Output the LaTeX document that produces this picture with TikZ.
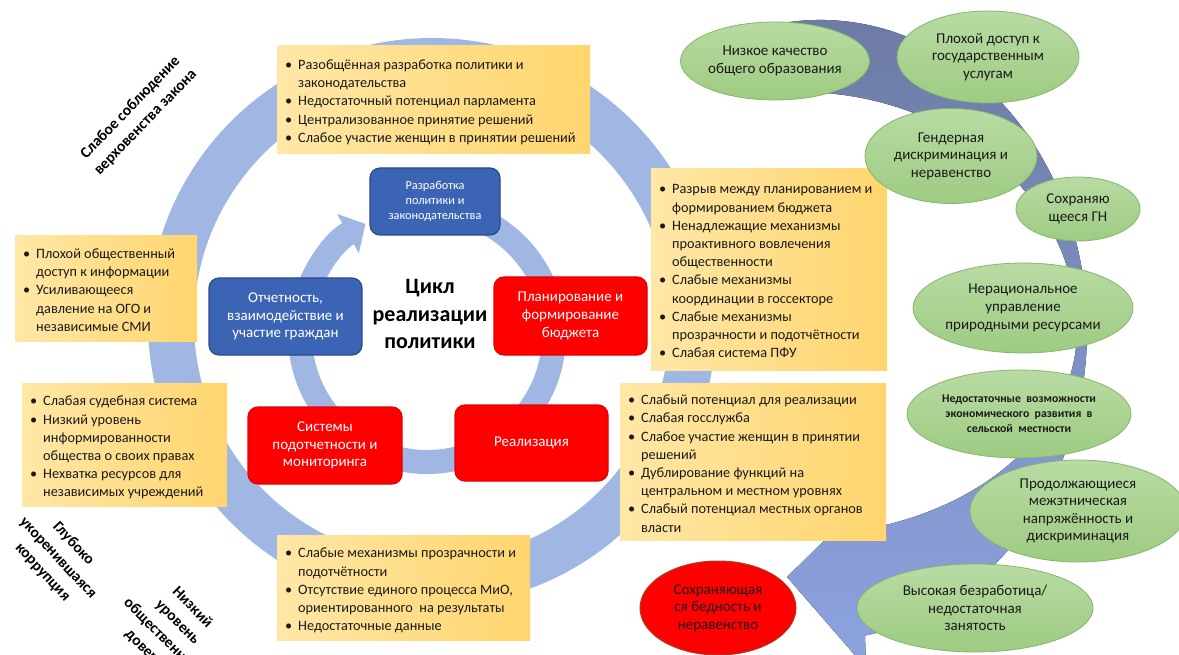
\documentclass[tikz,border=0pt]{standalone}
\usepackage{fontspec}
\setmainfont{Carlito}
\usetikzlibrary{shapes.geometric,arrows.meta}
\definecolor{ringblue}{HTML}{A0B7E3}
\definecolor{yleft}{HTML}{FFE7A6}
\definecolor{yright}{HTML}{FFD56E}
\definecolor{pblue}{HTML}{3B64B4}
\definecolor{pblueb}{HTML}{2C4A86}
\definecolor{pred}{HTML}{FF0000}
\definecolor{predb}{HTML}{E60000}
\definecolor{povb}{HTML}{A5402A}
\definecolor{gtop}{HTML}{B8DBA3}
\definecolor{gbot}{HTML}{9ECB82}
\definecolor{gborder}{HTML}{86B66A}
\definecolor{atop}{HTML}{6C7AA3}
\definecolor{abot}{HTML}{8DA3E0}
\definecolor{txt}{HTML}{1A1A1A}
\newcommand{\ylist}[2]{\raisebox{-3pt}[\height][\depth]{\makebox[#1][l]{\begin{tabular}{@{}p{13pt}@{}l@{}}#2\end{tabular}}}}
\newcommand{\bl}{\textbullet}
\begin{document}
\begin{tikzpicture}[x=1pt,y=-1pt,
  ybox/.style={anchor=north west, left color=yleft, right color=yright, draw=none,
    inner xsep=8pt, inner ysep=2pt, text=txt,
    font=\fontsize{14.3pt}{18.2pt}\selectfont},
  pbox/.style={rounded corners=10pt, line width=1.2pt, text=white, align=center,
    inner sep=2pt, font=\fontsize{15pt}{17.6pt}\selectfont},
  bluebox/.style={pbox, fill=pblue, draw=pblueb},
  redbox/.style={pbox, fill=pred, draw=predb},
  gell/.style={ellipse, top color=gtop, bottom color=gbot, draw=gborder, line width=0.8pt,
    inner sep=0pt, align=center, text=txt, font=\fontsize{15pt}{17.6pt}\selectfont},
  rlabel/.style={align=center, text=black, font=\bfseries\fontsize{15.5pt}{21pt}\selectfont}
]
\useasboundingbox (0,0) rectangle (1179,655);
\fill[white] (0,0) rectangle (1179,655);

% centres of the rings
\coordinate (oc) at (432,322);
\coordinate (ic) at (427,335);

% outer light ring
\draw[ringblue, line width=46pt] (oc) circle[radius=261];

% big right arrow
\fill[top color=atop, bottom color=abot]
  (787.5,22.3) arc[start angle=263, end angle=440.3, x radius=267, y radius=310]
  -- (866,668) -- (787,577) -- (874,492) -- (866.1,529.1)
  arc[start angle=76.2, end angle=0, x radius=277, y radius=205]
  arc[start angle=360, end angle=267.1, x radius=277, y radius=238] -- cycle;

% inner circular arrow
\draw[ringblue, line width=24pt, -{Triangle[width=44pt,length=20pt]}]
  (ic) ++(282:127) arc[start angle=282, end angle=601, radius=127];

% yellow boxes
\node[ybox, minimum width=313pt, minimum height=108pt] (ytop) at (277,45) {\ylist{297pt}{%
\bl & Разобщённая разработка политики и\\ & законодательства\\
\bl & Недостаточный потенциал парламента\\
\bl & Централизованное принятие решений\\
\bl & Слабое участие женщин в принятии решений}};

\node[ybox, minimum width=236pt, minimum height=202pt] (yr1) at (651,168) {\ylist{220pt}{%
\bl & Разрыв между планированием и\\ & формированием бюджета\\
\bl & Ненадлежащие механизмы\\ & проактивного вовлечения\\ & общественности\\
\bl & Слабые механизмы\\ & координации в госсекторе\\
\bl & Слабые механизмы\\ & прозрачности и подотчётности\\
\bl & Слабая система ПФУ}};

\node[ybox, minimum width=266pt, minimum height=157pt] (yr2) at (620,383) {\ylist{250pt}{%
\bl & Слабый потенциал для реализации\\
\bl & Слабая госслужба\\
\bl & Слабое участие женщин в принятии\\ & решений\\
\bl & Дублирование функций на\\ & центральном и местном уровнях\\
\bl & Слабый потенциал местных органов\\ & власти}};

\node[ybox, minimum width=182pt, minimum height=106pt] (yl1) at (15,235) {\ylist{166pt}{%
\bl & Плохой общественный\\ & доступ к информации\\
\bl & Усиливающееся\\ & давление на ОГО и\\ & независимые СМИ}};

\node[ybox, minimum width=205pt, minimum height=123pt] (yl2) at (22,383) {\ylist{189pt}{%
\bl & Слабая судебная система\\
\bl & Низкий уровень\\ & информированности\\ & общества о своих правах\\
\bl & Нехватка ресурсов для\\ & независимых учреждений}};

\node[ybox, minimum width=253pt, minimum height=105pt] (ybot) at (277,535) {\ylist{237pt}{%
\bl & Слабые механизмы прозрачности и\\ & подотчётности\\
\bl & Отсутствие единого процесса МиО,\\ & ориентированного~ на результаты\\
\bl & Недостаточные данные}};

% process boxes
\node[bluebox, minimum width=130pt, minimum height=67pt, font=\fontsize{12.3pt}{15pt}\selectfont] (dev) at (435,201.5)
  {Разработка\\политики и\\законодательства};
\node[redbox, minimum width=153pt, minimum height=78pt] (plan) at (570.5,316)
  {Планирование и\\формирование\\бюджета};
\node[redbox, minimum width=153pt, minimum height=76pt] (impl) at (531.5,443)
  {Реализация};
\node[redbox, minimum width=154pt, minimum height=77pt] (mon) at (325,445.5)
  {Системы\\подотчетности и\\мониторинга};
\node[bluebox, minimum width=153pt, minimum height=77pt] (acc) at (285.5,316.5)
  {Отчетность,\\взаимодействие и\\участие граждан};

% centre title
\node[align=center, font=\bfseries\fontsize{22pt}{27.5pt}\selectfont] (title) at (430,314)
  {Цикл\\реализации\\политики};

% green ellipses
\node[gell, minimum width=186pt, minimum height=78pt] (e1) at (775,61) {Низкое качество\\общего образования};
\node[gell, minimum width=182pt, minimum height=92pt] (e2) at (988,57) {Плохой доступ к\\государственным\\услугам};
\node[gell, minimum width=172pt, minimum height=95pt] (e3) at (951,156) {Гендерная\\дискриминация и\\неравенство};
\node[gell, minimum width=124pt, minimum height=64pt] (e4) at (1078,209) {Сохраняю\\щееся ГН};
\node[gell, minimum width=220pt, minimum height=90pt] (e5) at (1023,308) {Нерациональное\\управление\\природными ресурсами};
\node[gell, minimum width=224pt, minimum height=88pt, font=\bfseries\fontsize{11.8pt}{15pt}\selectfont] (e6) at (1019,414)
  {Недостаточные~ возможности\\экономического~ развития~ в\\сельской~ местности};
\node[gell, minimum width=216pt, minimum height=102pt] (e7) at (1078,511) {Продолжающиеся\\межэтническая\\напряжённость и\\дискриминация};
\node[gell, minimum width=236pt, minimum height=88pt] (e8) at (975,608) {Высокая безработица/\\недостаточная\\занятость};
\node[ellipse, fill=pred, draw=povb, line width=1pt, minimum width=156pt, minimum height=94pt, inner sep=0pt,
  align=center, text=txt, font=\fontsize{15pt}{17.6pt}\selectfont] (pov) at (718,608)
  {Сохраняющая\\ся бедность и\\неравенство};

% rotated labels
\node[rlabel, rotate=46] (l1) at (138,115) {Слабое соблюдение\\верховенства закона};
\node[rlabel, rotate=-47] (l2) at (58,558) {Глубоко\\укоренившаяся\\коррупция};
\node[rlabel, rotate=-45] (l3) at (170,630) {Низкий\\уровень\\общественного\\доверия};
\end{tikzpicture}
\end{document}
